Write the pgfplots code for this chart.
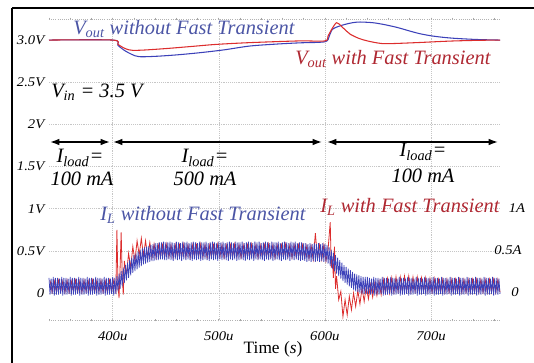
\documentclass[border=0pt]{standalone}
\usepackage{pgfplots}
\pgfplotsset{compat=1.18}
\usepackage{fontspec}
\setmainfont{Liberation Serif}
\usepackage{graphicx}
\usetikzlibrary{arrows.meta}
\definecolor{bT}{RGB}{60,65,185}
\definecolor{rT}{RGB}{220,45,45}
\definecolor{bX}{RGB}{75,85,165}
\definecolor{rX}{RGB}{175,40,50}
\newcommand{\tl}[1]{\scalebox{1.1}[1]{\fontsize{10}{12}\selectfont\itshape #1}}
\newcommand{\bigf}{\fontsize{15.3}{17}\selectfont\itshape}
\begin{document}
\begin{tikzpicture}[x=1pt,y=1pt]
\useasboundingbox (0,0) rectangle (400.5,272.25);
\begin{axis}[at={(36.75pt,32.25pt)}, anchor=south west, scale only axis,
  width=338.25pt, height=225.75pt,
  xmin=340, xmax=765, ymin=-0.32, ymax=3.25,
  axis line style={draw=none},
  xtick={400,500,600,700},
  xticklabels={\tl{400u},\tl{500u},\tl{600u},\tl{700u}},
  minor xtick={340,360,...,760},
  xtick style={gray!70, line width=0.5pt},
  tick align=center, major tick length=2pt, minor tick length=2pt,
  xticklabel style={yshift=-4pt},
  ytick={0,0.5,1,1.5,2,2.5,3},
  yticklabels={\tl{0},\tl{0.5V},\tl{1V},\tl{1.5V},\tl{2V},\tl{2.5V},\tl{3.0V}},
  yticklabel style={xshift=1pt},
  ytick style={draw=none},
  clip=false]
\pgfplotsinvokeforeach{0,0.5,1,1.5,2,2.5}{\draw[gray!45, densely dotted] (340,#1) -- (765,#1);}
\pgfplotsinvokeforeach{400,500,600,700}{\draw[gray!45, densely dotted] (#1,-0.32) -- (#1,3.25);}
\draw[gray!60, densely dotted, line width=0.6pt] (340,-0.32) -- (765,-0.32);
\draw[gray!60, densely dotted, line width=0.6pt] (340,3.25) -- (765,3.25);
% I_L with fast transient
\addplot[rT, line width=0.6pt] coordinates {
(341,.15)(343,.01)(345,.14)(347,.01)(349,.15)(351,.02)(353,.14)(355,.01)(357,.15)(359,.01)(361,.14)(363,.02)(365,.15)(367,.01)(369,.14)(371,.01)(373,.15)(375,.02)(377,.14)(379,.01)(381,.15)(383,.01)(385,.14)(387,.02)(389,.15)(391,.01)(393,.14)(395,.01)(397,.15)(399,.02)(401,.15)(403,.02)(404,.75)(405,.10)(406,-.06)(407,.30)(408,.72)(409,.20)(410,-.02)(411,.38)(413,.22)(415,.47)(417,.30)(419,.55)(421,.38)(423,.62)(425,.45)(427,.65)(429,.44)(431,.62)(433,.42)(435,.60)(437,.42)(439,.58)(441,.42)
(443,.57)(445,.43)(447,.57)(449,.43)(451,.58)(453,.43)(455,.57)(457,.42)(459,.57)(461,.43)(463,.57)(465,.43)(467,.58)(469,.43)(471,.57)(473,.42)(475,.57)(477,.43)(479,.57)(481,.43)(483,.58)(485,.43)(487,.57)(489,.42)(491,.57)(493,.43)(495,.57)(497,.43)(499,.58)(501,.43)(503,.57)(505,.42)(507,.57)(509,.43)(511,.57)(513,.43)(515,.58)(517,.43)(519,.57)(521,.42)(523,.57)(525,.43)(527,.57)(529,.43)(531,.58)(533,.43)(535,.57)(537,.42)(539,.57)(541,.43)(543,.57)(545,.43)(547,.58)(549,.43)(551,.57)(553,.42)(555,.57)(557,.43)(559,.57)(561,.43)(563,.58)(565,.43)(567,.57)(569,.42)(571,.57)(573,.43)(575,.57)(577,.43)(579,.57)(581,.42)(583,.56)(585,.41)(587,.56)(589,.40)
(591,.71)(593,.41)(595,.57)(597,.40)(599,.57)(601,.38)(603,.52)(605,.84)(606,.30)(607,.40)(608,.18)(609,.55)(610,.05)(611,.20)(613,-.08)(615,.02)(617,-.28)(619,-.08)(621,-.26)(623,-.04)(625,-.20)(627,.00)(629,-.16)(631,.03)(633,-.13)(635,.06)(637,-.10)(639,.08)(641,-.07)(643,.10)(645,-.05)(647,.12)(649,-.03)(651,.14)(653,-.02)(655,.16)(657,.00)(659,.17)(661,.00)(663,.18)(665,.01)(667,.19)(669,.02)(671,.19)(673,.02)(675,.20)(677,.02)(679,.20)(681,.02)(683,.19)(685,.02)(687,.19)(689,.02)(691,.18)(693,.02)(695,.18)(697,.02)(699,.17)(701,.01)(703,.17)(705,.01)(707,.16)(709,.01)(711,.16)(713,.01)(715,.16)(717,.01)(719,.16)(721,.01)(723,.16)(725,.01)(727,.16)(729,.01)(731,.16)(733,.01)(735,.16)(737,.01)(739,.16)(741,.01)(743,.16)(745,.01)(747,.16)(749,.01)(751,.16)(753,.01)(755,.16)(757,.01)(759,.16)(761,.01)(763,.16)(765,.01)
};
% I_L without fast transient
\addplot[bT, line width=0.55pt] coordinates {
(340,.18)(341,-.02)(342,.17)(343,-.01)(344,.19)(345,-.03)(346,.18)(347,-.02)(348,.18)(349,-.02)(350,.17)(351,-.01)(352,.19)(353,-.03)(354,.18)(355,-.02)(356,.18)(357,-.02)(358,.17)(359,-.01)(360,.19)(361,-.03)(362,.18)(363,-.02)(364,.18)(365,-.02)(366,.17)(367,-.01)(368,.19)(369,-.03)(370,.18)(371,-.02)(372,.18)(373,-.02)(374,.17)(375,-.01)(376,.19)(377,-.03)(378,.18)(379,-.02)(380,.18)(381,-.02)(382,.17)(383,-.01)(384,.19)(385,-.03)(386,.18)(387,-.02)(388,.18)(389,-.02)(390,.17)(391,-.01)(392,.19)(393,-.03)(394,.18)(395,-.02)(396,.18)(397,-.02)(398,.17)(399,-.01)(400,.19)(401,-.03)(402,.18)(403,-.01)
(404,.20)(405,.02)(406,.23)(407,.05)(408,.26)(409,.08)(410,.30)(411,.12)(412,.33)(413,.15)(414,.36)(415,.18)(416,.39)(417,.21)(418,.42)(419,.24)(420,.45)(421,.26)(422,.47)(423,.28)(424,.49)(425,.30)(426,.51)(427,.32)(428,.53)(429,.34)(430,.54)(431,.35)(432,.55)(433,.36)(434,.56)(435,.37)(436,.57)(437,.38)(438,.58)(439,.38)(440,.59)(441,.39)(442,.59)(443,.39)(444,.60)(445,.40)(446,.60)(447,.40)(448,.61)(449,.39)(450,.60)
(451,.39)(452,.60)(453,.40)(454,.61)(455,.39)(456,.60)(457,.38)(458,.59)(459,.40)(460,.61)(461,.39)(462,.60)(463,.40)(464,.59)(465,.38)(466,.61)(467,.40)(468,.60)(469,.39)(470,.61)(471,.40)(472,.59)(473,.39)(474,.60)(475,.38)(476,.61)(477,.40)(478,.60)(479,.39)(480,.59)(481,.40)(482,.61)(483,.38)(484,.60)(485,.39)(486,.60)(487,.40)(488,.61)(489,.39)(490,.59)(491,.38)(492,.60)(493,.40)(494,.61)(495,.39)(496,.60)(497,.40)(498,.59)(499,.38)(500,.61)
(501,.40)(502,.60)(503,.39)(504,.61)(505,.40)(506,.59)(507,.39)(508,.60)(509,.38)(510,.61)(511,.40)(512,.60)(513,.39)(514,.59)(515,.40)(516,.61)(517,.38)(518,.60)(519,.39)(520,.60)(521,.40)(522,.61)(523,.39)(524,.59)(525,.38)(526,.60)(527,.40)(528,.61)(529,.39)(530,.60)(531,.40)(532,.59)(533,.38)(534,.61)(535,.40)(536,.60)(537,.39)(538,.61)(539,.40)(540,.59)(541,.39)(542,.60)(543,.38)(544,.61)(545,.40)(546,.60)(547,.39)(548,.59)(549,.40)(550,.61)
(551,.38)(552,.60)(553,.39)(554,.60)(555,.40)(556,.61)(557,.39)(558,.59)(559,.38)(560,.60)(561,.40)(562,.61)(563,.39)(564,.60)(565,.40)(566,.59)(567,.38)(568,.61)(569,.40)(570,.60)(571,.39)(572,.61)(573,.40)(574,.59)(575,.39)(576,.60)(577,.38)(578,.60)(579,.39)(580,.59)(581,.38)(582,.59)(583,.37)(584,.58)(585,.38)(586,.59)(587,.37)(588,.58)(589,.38)(590,.59)(591,.37)(592,.58)(593,.38)(594,.59)(595,.37)(596,.58)(597,.38)(598,.59)(599,.37)
(600,.58)(601,.37)(602,.57)(603,.35)(604,.54)(605,.32)(606,.51)(607,.29)(608,.48)(609,.26)(610,.45)(611,.23)(612,.42)(613,.20)(614,.39)(615,.17)(616,.36)(617,.14)(618,.33)(619,.12)(620,.31)(621,.10)(622,.29)(623,.08)(624,.27)(625,.06)(626,.25)(627,.04)(628,.23)(629,.02)(630,.22)(631,.01)(632,.21)(633,.00)(634,.20)(635,-.01)(636,.19)(637,-.01)(638,.19)(639,-.01)(640,.19)
(641,-.01)(642,.18)(643,-.02)(644,.17)(645,-.01)(646,.19)(647,-.03)(648,.18)(649,-.02)(650,.18)(651,-.02)(652,.17)(653,-.01)(654,.19)(655,-.03)(656,.18)(657,-.02)(658,.18)(659,-.02)(660,.17)(661,-.01)(662,.19)(663,-.03)(664,.18)(665,-.02)(666,.18)(667,-.02)(668,.17)(669,-.01)(670,.19)(671,-.03)(672,.18)(673,-.02)(674,.18)(675,-.02)(676,.17)(677,-.01)(678,.19)(679,-.03)(680,.18)(681,-.02)(682,.18)(683,-.02)(684,.17)(685,-.01)(686,.19)(687,-.03)(688,.18)(689,-.02)(690,.18)(691,-.02)(692,.17)(693,-.01)(694,.19)(695,-.03)(696,.18)(697,-.02)(698,.18)(699,-.02)(700,.17)
(701,-.01)(702,.19)(703,-.03)(704,.18)(705,-.02)(706,.18)(707,-.02)(708,.17)(709,-.01)(710,.19)(711,-.03)(712,.18)(713,-.02)(714,.18)(715,-.02)(716,.17)(717,-.01)(718,.19)(719,-.03)(720,.18)(721,-.02)(722,.18)(723,-.02)(724,.17)(725,-.01)(726,.19)(727,-.03)(728,.18)(729,-.02)(730,.18)(731,-.02)(732,.17)(733,-.01)(734,.19)(735,-.03)(736,.18)(737,-.02)(738,.18)(739,-.02)(740,.17)(741,-.01)(742,.19)(743,-.03)(744,.18)(745,-.02)(746,.18)(747,-.02)(748,.17)(749,-.01)(750,.19)(751,-.03)(752,.18)(753,-.02)(754,.18)(755,-.02)(756,.17)(757,-.01)(758,.19)(759,-.03)(760,.18)(761,-.02)(762,.18)(763,-.02)(764,.17)(765,-.01)
};
% V_out without fast transient
\addplot[bT, line width=0.8pt, smooth] coordinates {
(340,3.0)(400,3.0)(405,2.937)(411,2.878)(418,2.83)(425,2.803)(440,2.807)(460,2.824)(482,2.85)(505,2.884)(529,2.929)(555,2.953)(576,2.967)(600,2.98)(604,3.044)(607,3.127)(613,3.163)(619,3.186)(626,3.206)(633,3.214)(645,3.206)(655,3.186)(668,3.15)(680,3.107)(690,3.074)(702,3.047)(715,3.028)(727,3.017)(745,3.006)(765,3.0)
};
% V_out with fast transient
\addplot[rT, line width=0.8pt, smooth] coordinates {
(340,3.0)(400,3.0)(405,2.95)(410,2.91)(415,2.885)(419,2.878)(430,2.882)(451,2.90)(475,2.925)(498,2.949)(530,2.97)(576,2.99)(600,2.99)(603,3.05)(607,3.14)(611,3.206)(615,3.17)(620,3.11)(624,3.068)(632,3.02)(640,2.99)(650,2.965)(659,2.957)(687,2.97)(718,2.988)(745,2.997)(765,3.0)
};
\end{axis}
\begin{scope}[x=0.75pt, y=-0.75pt, shift={(0pt,272.25pt)}]
\draw[line width=1.5pt] (12,8) -- (545,8);
\draw[line width=1.5pt] (12,8) -- (12,375);
\node[anchor=base west, text=bX, font=\bigf, inner sep=0] at (73,35) {V\textsubscript{out} without Fast Transient};
\node[anchor=base west, text=rX, font=\bigf, inner sep=0] at (295,65) {V\textsubscript{out} with Fast Transient};
\node[anchor=base west, font=\bigf, inner sep=0] at (51,98) {V\textsubscript{in} = 3.5 V};
\draw[line width=1.1pt, {Latex[length=7pt,width=5pt]}-{Latex[length=7pt,width=5pt]}] (50,142) -- (110,142);
\draw[line width=1.1pt, {Latex[length=7pt,width=5pt]}-{Latex[length=7pt,width=5pt]}] (113,142) -- (322,142);
\draw[line width=1.1pt, {Latex[length=7pt,width=5pt]}-{Latex[length=7pt,width=5pt]}] (327,142) -- (498,142);
\node[anchor=base, font=\bigf, inner sep=0] at (80,163) {I\textsubscript{load}=};
\node[anchor=base, font=\bigf, inner sep=0] at (82,186) {100 mA};
\node[anchor=base, font=\bigf, inner sep=0] at (205,163) {I\textsubscript{load}=};
\node[anchor=base, font=\bigf, inner sep=0] at (205,186) {500 mA};
\node[anchor=base, font=\bigf, inner sep=0] at (423,157) {I\textsubscript{load}=};
\node[anchor=base, font=\bigf, inner sep=0] at (423,183) {100 mA};
\node[anchor=base west, text=bX, font=\bigf, inner sep=0] at (100,221) {I\textsubscript{L} without Fast Transient};
\node[anchor=base west, text=rX, font=\bigf, inner sep=0] at (320,213) {I\textsubscript{L} with Fast Transient};
\node[inner sep=0] at (517,208) {\tl{1A}};
\node[inner sep=0] at (508,250) {\tl{0.5A}};
\node[inner sep=0] at (515,292) {\tl{0}};
\node[anchor=base, inner sep=0, font=\fontsize{13}{15}\selectfont] at (273,354) {Time (\textit{s})};
\end{scope}
\end{tikzpicture}
\end{document}
